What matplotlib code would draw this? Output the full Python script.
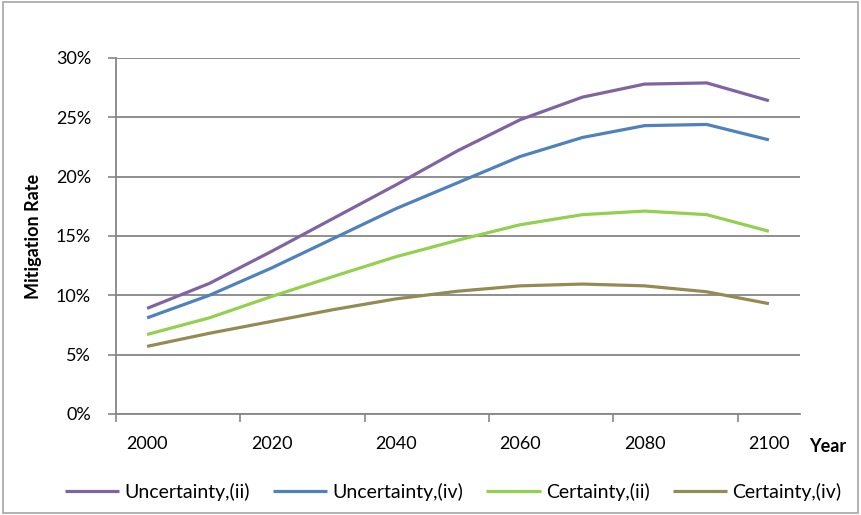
import matplotlib
matplotlib.use("Agg")
import matplotlib.pyplot as plt
from matplotlib.ticker import FuncFormatter, MultipleLocator, FixedLocator
import matplotlib.patches as mpatches

plt.rcParams["font.family"] = ["Lato", "DejaVu Sans"]

years = [2000, 2010, 2020, 2030, 2040, 2050, 2060, 2070, 2080, 2090, 2100]
tick_years = [2000, 2020, 2040, 2060, 2080, 2100]

# mitigation rate in percent
unc_ii = [8.9, 11.0, 13.7, 16.5, 19.3, 22.2, 24.8, 26.7, 27.8, 27.9, 26.4]
unc_iv = [8.1, 10.0, 12.3, 14.8, 17.3, 19.5, 21.7, 23.3, 24.3, 24.4, 23.1]
cert_ii = [6.7, 8.1, 9.9, 11.6, 13.25, 14.65, 15.95, 16.8, 17.1, 16.8, 15.4]
cert_iv = [5.7, 6.8, 7.8, 8.8, 9.7, 10.35, 10.8, 10.95, 10.8, 10.3, 9.3]

series = [
    ("Uncertainty,(ii)", unc_ii, "#8064A2"),
    ("Uncertainty,(iv)", unc_iv, "#4F81BD"),
    ("Certainty,(ii)", cert_ii, "#92D050"),
    ("Certainty,(iv)", cert_iv, "#948A54"),
]

fig = plt.figure(figsize=(8.61, 5.15), dpi=100)
ax = fig.add_axes([116 / 861, 1 - 414 / 515, (800 - 116) / 861, (414 - 58) / 515])

grid_col = "#868686"
for lbl, vals, col in series:
    ax.plot(years, vals, color=col, lw=2.3, label=lbl, solid_capstyle="butt", zorder=3)

ax.set_xlim(1995, 2105)
ax.set_ylim(0, 30)
ax.yaxis.set_major_locator(MultipleLocator(5))
ax.yaxis.set_major_formatter(FuncFormatter(lambda v, p: f"{v:.0f}%"))
ax.xaxis.set_major_locator(FixedLocator(tick_years))
ax.xaxis.set_minor_locator(FixedLocator([1995, 2015, 2035, 2055, 2075, 2095]))
ax.tick_params(axis="x", which="major", length=0, pad=16, labelsize=13, colors="black")
ax.tick_params(axis="x", which="minor", length=6, width=1.2, color=grid_col)
ax.tick_params(axis="y", length=6, width=1.2, color=grid_col, labelsize=13, pad=12)
ax.grid(axis="y", color=grid_col, lw=1.3, zorder=1)

for side in ["top", "right"]:
    ax.spines[side].set_visible(False)
for side in ["left", "bottom"]:
    ax.spines[side].set_color(grid_col)
    ax.spines[side].set_linewidth(1.3)

ax.set_ylabel("Mitigation Rate", fontsize=13, fontweight="bold", labelpad=10)
fig.text(828 / 861, 1 - 447 / 515, "Year", fontsize=13, fontweight="bold",
         ha="center", va="center")

fig.legend(loc="center", bbox_to_anchor=(453 / 861, 1 - 492 / 515), ncol=4,
           frameon=False, fontsize=14, handlelength=2.8, handletextpad=0.25,
           columnspacing=1.2)

# chart area border
fig.patches.append(mpatches.Rectangle((0.004, 0.004), 0.992, 0.992, transform=fig.transFigure,
                                      fill=False, edgecolor="#A6A6A6", lw=1.2))

fig.savefig("out.png", dpi=100)
